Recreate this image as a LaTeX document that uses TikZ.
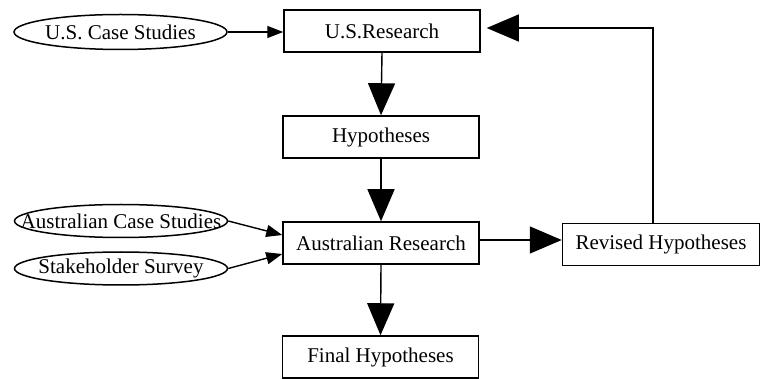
\documentclass[tikz,border=0pt]{standalone}
\usepackage{fontspec}
\setmainfont{Liberation Serif}
\usetikzlibrary{arrows.meta,shapes.geometric}
\begin{document}
\begin{tikzpicture}[x=1pt,y=-1pt,
  box/.style={draw,line width=1.5pt,minimum width=196pt,minimum height=42pt,inner sep=0pt,font=\fontsize{21}{23}\selectfont},
  oval/.style={draw,ellipse,line width=1.5pt,minimum width=213pt,minimum height=35pt,inner sep=0pt,font=\fontsize{21}{23}\selectfont},
  bigarr/.style={line width=1.4pt,-{Triangle[length=32pt,width=27pt]}},
  smallarr/.style={line width=1.4pt,-{Triangle[length=16pt,width=12pt]}}]
\useasboundingbox (0,0) rectangle (760,379);
\node[oval] (usc) at (120.5,32) {\makebox[0pt]{U.S. Case Studies}};
\node[box] (usr) at (382,31) {U.S.Research};
\node[box] (hyp) at (381,137) {Hypotheses};
\node[box] (aur) at (381,243) {Australian Research};
\node[box] (fin) at (380.5,357) {Final Hypotheses};
\node[box,minimum width=197pt] (rev) at (661,244.5) {Revised Hypotheses};
\node[oval,minimum height=33pt] (auc) at (121,221) {\makebox[0pt]{Australian Case Studies}};
\node[oval,minimum height=33pt] (stk) at (121,268.5) {\makebox[0pt]{Stakeholder Survey}};
\draw[smallarr] (usc.east) -- (usr.west|-usc.east);
\draw[bigarr] (usr.south) -- (hyp.north);
\draw[bigarr] (hyp.south) -- (aur.north);
\draw[bigarr] (aur.south) -- (fin.north);
\draw[bigarr] (aur.east|-0,240) -- (rev.west|-0,240);
\coordinate (c1) at (653,28);
\draw[bigarr,line width=1.2pt] (rev.north-|c1) -- (c1) -- ([xshift=6pt]usr.east|-c1);
\draw[smallarr] (auc.east) -- ([yshift=8pt]aur.west);
\draw[smallarr] (stk.east) -- ([yshift=-11pt]aur.west);
\end{tikzpicture}
\end{document}
